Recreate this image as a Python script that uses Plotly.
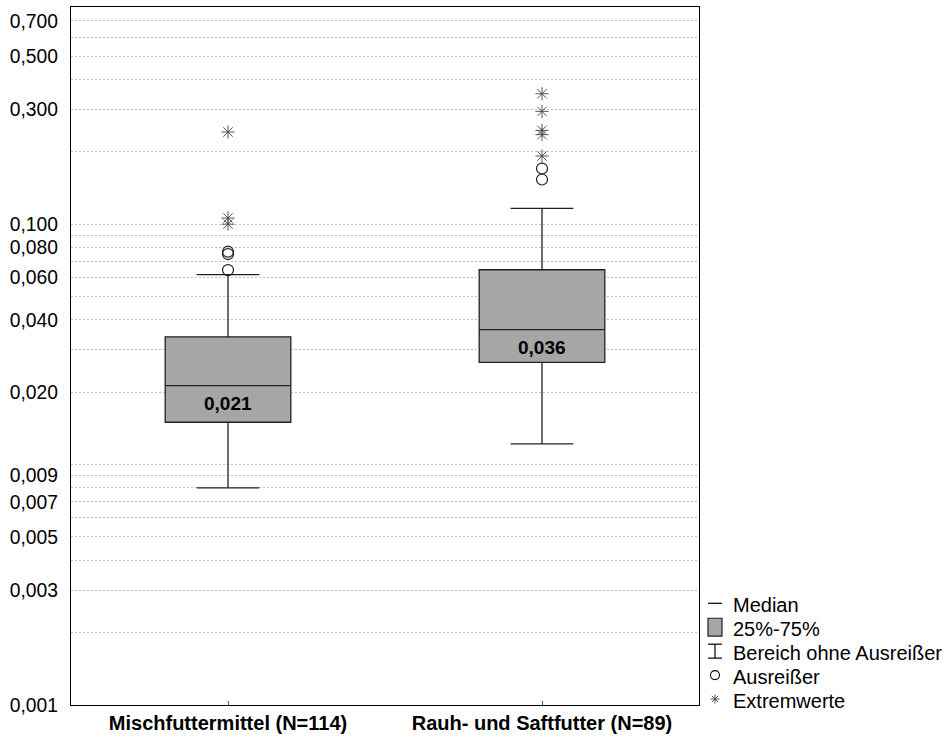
import math
import plotly.graph_objects as go

# ---- data ----
categories = ["Mischfuttermittel (N=114)", "Rauh- und Saftfutter (N=89)"]
q1 = [0.0150, 0.0266]
median = [0.0213, 0.0364]
q3 = [0.0340, 0.0646]
lower_whisker = [0.0080, 0.0122]
upper_whisker = [0.0616, 0.1162]

outliers_cat = [categories[0], categories[0], categories[0], categories[1], categories[1]]
outliers_val = [0.0644, 0.0751, 0.0768, 0.1533, 0.1703]

extremes_cat = [categories[0], categories[0], categories[0],
                categories[1], categories[1], categories[1], categories[1], categories[1]]
extremes_val = [0.100, 0.106, 0.2416, 0.192, 0.2356, 0.2455, 0.2944, 0.3486]

grid_vals = [0.002, 0.003, 0.004, 0.005, 0.006, 0.007, 0.008, 0.009, 0.01,
             0.02, 0.03, 0.04, 0.05, 0.06, 0.07, 0.08, 0.09, 0.1,
             0.2, 0.3, 0.4, 0.5, 0.6, 0.7]
labeled_vals = [0.001, 0.003, 0.005, 0.007, 0.009, 0.02, 0.04, 0.06, 0.08, 0.1, 0.3, 0.5, 0.7]

legend_labels = ["Median", "25%-75%", "Bereich ohne Ausreißer", "Ausreißer", "Extremwerte"]

FONT = "Liberation Sans, Arial, sans-serif"
FS_TICK = 19.3
FS_LEG = 20

def fmt(v):
    return f"{v:.3f}".replace(".", ",")

tick_vals = sorted(set(grid_vals + labeled_vals))
tick_text = [fmt(v) if any(abs(v - l) < 1e-12 for l in labeled_vals) else "" for v in tick_vals]

fig = go.Figure()

for i, c in enumerate(categories):
    fig.add_trace(go.Box(
        x=[c], q1=[q1[i]], median=[median[i]], q3=[q3[i]],
        lowerfence=[lower_whisker[i]], upperfence=[upper_whisker[i]],
        fillcolor="#A6A6A6", line=dict(color="#222222", width=1.3),
        width=0.4, whiskerwidth=0.5, boxpoints=False, showlegend=False,
        hoverinfo="skip"))

fig.add_trace(go.Scatter(
    x=outliers_cat, y=outliers_val, mode="markers", showlegend=False,
    marker=dict(symbol="circle-open", size=11, color="#222222", line=dict(width=1.2))))
fig.add_trace(go.Scatter(
    x=extremes_cat, y=extremes_val, mode="markers", showlegend=False,
    marker=dict(symbol="asterisk-open", size=11, color="#444444", line=dict(width=0.9))))

annotations = []
for i, c in enumerate(categories):
    annotations.append(dict(x=c, y=math.log10(median[i]), xref="x", yref="y",
                            text=fmt(median[i]), showarrow=False, yshift=-18,
                            font=dict(family=FONT, size=19, color="black", weight="bold")))

# ---- manual legend (paper coordinates) ----
L, R, T, B = 71, 247, 6, 34
W, H = 946, 740
pw, ph = W - L - R, H - T - B

def px(x):
    return (x - L) / pw

def py(y):
    return (H - B - y) / ph

rows_y = [604, 628, 652, 676, 700]
shapes = []
icx = 715
# Median
shapes.append(dict(type="line", xref="paper", yref="paper", x0=px(708), x1=px(722),
                   y0=py(rows_y[0]), y1=py(rows_y[0]), line=dict(color="black", width=1.2)))
# 25%-75%
shapes.append(dict(type="rect", xref="paper", yref="paper", x0=px(708), x1=px(722),
                   y0=py(rows_y[1] + 9), y1=py(rows_y[1] - 9),
                   fillcolor="#A6A6A6", line=dict(color="#222222", width=1.2)))
# Bereich ohne Ausreisser (I-bar)
for yy in (rows_y[2] - 7, rows_y[2] + 7):
    shapes.append(dict(type="line", xref="paper", yref="paper", x0=px(708), x1=px(722),
                       y0=py(yy), y1=py(yy), line=dict(color="black", width=1.2)))
shapes.append(dict(type="line", xref="paper", yref="paper", x0=px(icx), x1=px(icx),
                   y0=py(rows_y[2] - 7), y1=py(rows_y[2] + 7), line=dict(color="black", width=1.2)))
# Ausreisser (circle)
shapes.append(dict(type="circle", xref="paper", yref="paper", xsizemode="pixel", ysizemode="pixel",
                   xanchor=px(icx), yanchor=py(rows_y[3]), x0=-4.5, x1=4.5, y0=-4.5, y1=4.5,
                   line=dict(color="black", width=1.1)))
# Extremwerte (asterisk)
for dx, dy in ((0, 4.5), (4.5, 0), (3.2, 3.2), (3.2, -3.2)):
    shapes.append(dict(type="line", xref="paper", yref="paper", xsizemode="pixel", ysizemode="pixel",
                       xanchor=px(icx), yanchor=py(rows_y[4]), x0=-dx, x1=dx, y0=-dy, y1=dy,
                       line=dict(color="#444444", width=0.9)))

for lab, yy in zip(legend_labels, rows_y):
    annotations.append(dict(x=px(731), y=py(yy + 2), xref="paper", yref="paper", text=lab,
                            showarrow=False, xanchor="left", yanchor="middle",
                            font=dict(family=FONT, size=FS_LEG, color="black")))

fig.update_layout(
    width=W, height=H,
    margin=dict(l=L, r=R, t=T, b=B, pad=0),
    paper_bgcolor="white", plot_bgcolor="white",
    font=dict(family=FONT, size=FS_TICK, color="black"),
    showlegend=False,
    annotations=annotations, shapes=shapes,
    xaxis=dict(type="category", categoryorder="array", categoryarray=categories,
               range=[-0.5, 1.5], showline=True, linecolor="black", linewidth=1.3, mirror=True,
               ticks="inside", ticklen=4, tickcolor="#555555", showgrid=False, zeroline=False,
               tickfont=dict(family=FONT, size=20, color="black", weight="bold")),
    yaxis=dict(type="log", range=[math.log10(0.001), math.log10(0.8)],
               tickmode="array", tickvals=tick_vals, ticktext=tick_text,
               showline=True, linecolor="black", linewidth=1.3, mirror=True,
               ticks="outside", ticklen=8, tickcolor="rgba(0,0,0,0)",
               showgrid=True, gridcolor="#BDBDBD", gridwidth=1, griddash="2px,2px",
               zeroline=False, tickfont=dict(family=FONT, size=FS_TICK, color="black")),
)

fig.write_html("out.html")
